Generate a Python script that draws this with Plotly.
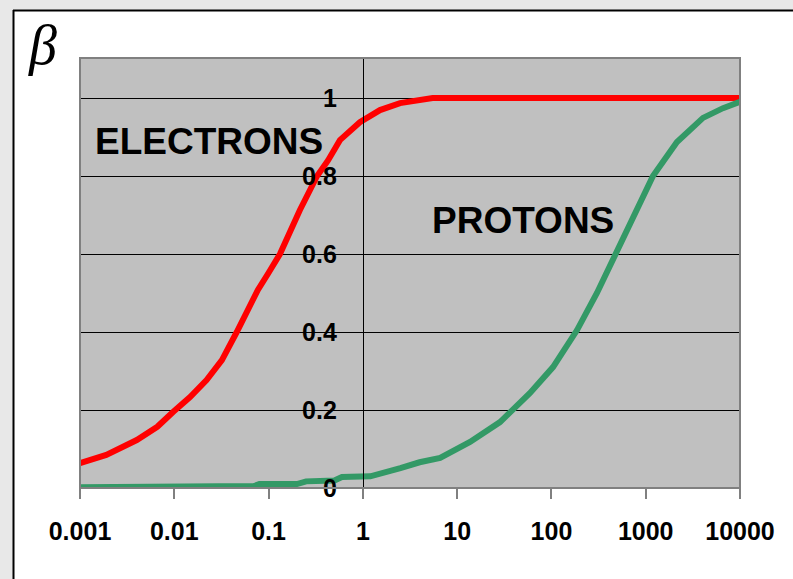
import plotly.graph_objects as go

# Electrons: kinetic energy (MeV) vs beta
e_T = [0.001, 0.0019, 0.004, 0.0066, 0.0097, 0.0147, 0.022, 0.032, 0.046, 0.077,
       0.099, 0.132, 0.215, 0.327, 0.427, 0.571, 0.93, 1.52, 2.48, 4.35, 5.5, 100, 10000]
e_beta = [0.064, 0.085, 0.123, 0.157, 0.195, 0.233, 0.277, 0.328, 0.40, 0.508,
          0.55, 0.60, 0.713, 0.80, 0.84, 0.892, 0.938, 0.969, 0.987, 0.995, 1.0, 1.0, 1.0]

# Protons
p_T = [0.001, 0.008, 0.009, 0.07, 0.08, 0.2, 0.25, 0.5, 0.6, 1.2, 2.5, 4, 6.6, 9,
       13.7, 28.5, 59, 104, 187, 304, 496, 733, 1194, 2145, 4050, 6600, 10000]
p_beta = [0.002, 0.002, 0.005, 0.005, 0.01, 0.01, 0.017, 0.019, 0.028, 0.03, 0.051,
          0.066, 0.077, 0.095, 0.118, 0.169, 0.243, 0.31, 0.405, 0.50, 0.61, 0.695,
          0.80, 0.887, 0.949, 0.974, 0.99]

x_ticks = [0.001, 0.01, 0.1, 1, 10, 100, 1000, 10000]
x_labels = ["0.001", "0.01", "0.1", "1", "10", "100", "1000", "10000"]
y_ticks = [0, 0.2, 0.4, 0.6, 0.8, 1.0]
y_labels = ["0", "0.2", "0.4", "0.6", "0.8", "1"]

W, H = 793, 579
L, R, T, B = 80, 53, 58, 91
pw, ph = W - L - R, H - T - B


def px(xp):
    return (xp - L) / pw


def py(yp):
    return (H - B - yp) / ph


fig = go.Figure()
fig.add_trace(go.Scatter(x=e_T, y=e_beta, mode="lines",
                         line=dict(color="#ff0000", width=6), showlegend=False))
fig.add_trace(go.Scatter(x=p_T, y=p_beta, mode="lines",
                         line=dict(color="#339966", width=6), showlegend=False))

bold = dict(family="Liberation Sans, Arial", size=25, color="black", weight="bold")

fig.update_layout(
    width=W, height=H, autosize=False,
    margin=dict(l=L, r=R, t=T, b=B, pad=0),
    paper_bgcolor="white", plot_bgcolor="#c0c0c0",
    xaxis=dict(type="log", range=[-3, 4], tickvals=x_ticks, ticktext=x_labels,
               showgrid=False, zeroline=False, showline=False,
               ticks="outside", ticklen=10, tickwidth=2, tickcolor="#808080",
               tickfont=bold, ticklabelstandoff=11),
    yaxis=dict(range=[0, 1.1026], tickvals=y_ticks, ticktext=y_labels,
               showgrid=True, gridcolor="black", gridwidth=1, zeroline=False,
               anchor="free", position=3 / 7, showline=True, linecolor="black",
               linewidth=1, ticks="outside", ticklen=9, tickcolor="black",
               tickfont=bold, ticklabelstandoff=12),
    shapes=[
        dict(type="rect", xref="paper", yref="paper", x0=px(0), x1=px(13),
             y0=py(H), y1=py(0), fillcolor="#e8e8e8", line=dict(width=0)),
        dict(type="rect", xref="paper", yref="paper", x0=px(0), x1=px(W),
             y0=py(10), y1=py(0), fillcolor="#e8e8e8", line=dict(width=0)),
        dict(type="line", xref="paper", yref="paper", x0=px(13.5), x1=px(13.5),
             y0=py(10), y1=py(H), line=dict(color="black", width=2)),
        dict(type="line", xref="paper", yref="paper", x0=px(13), x1=px(W),
             y0=py(10.5), y1=py(10.5), line=dict(color="black", width=2)),
        dict(type="rect", xref="paper", yref="paper", x0=0, x1=1, y0=0, y1=1,
             line=dict(color="#808080", width=2)),
    ],
    annotations=[
        dict(text="ELECTRONS", xref="paper", yref="paper", x=px(209), y=py(141),
             showarrow=False, xanchor="center", yanchor="middle",
             font=dict(family="Liberation Sans, Arial", size=37, color="black", weight="bold")),
        dict(text="PROTONS", xref="paper", yref="paper", x=px(523), y=py(220),
             showarrow=False, xanchor="center", yanchor="middle",
             font=dict(family="Liberation Sans, Arial", size=37, color="black", weight="bold")),
        dict(text="β", xref="paper", yref="paper", x=px(42), y=py(45),
             showarrow=False, xanchor="center", yanchor="middle",
             font=dict(family="Liberation Serif, Times New Roman", size=56, color="black",
                       style="italic")),
    ],
)

fig.write_html("out.html", config={"displayModeBar": False},
               post_script="document.body.style.margin='0';document.body.style.padding='0';"
                           "document.body.style.overflow='hidden';")
